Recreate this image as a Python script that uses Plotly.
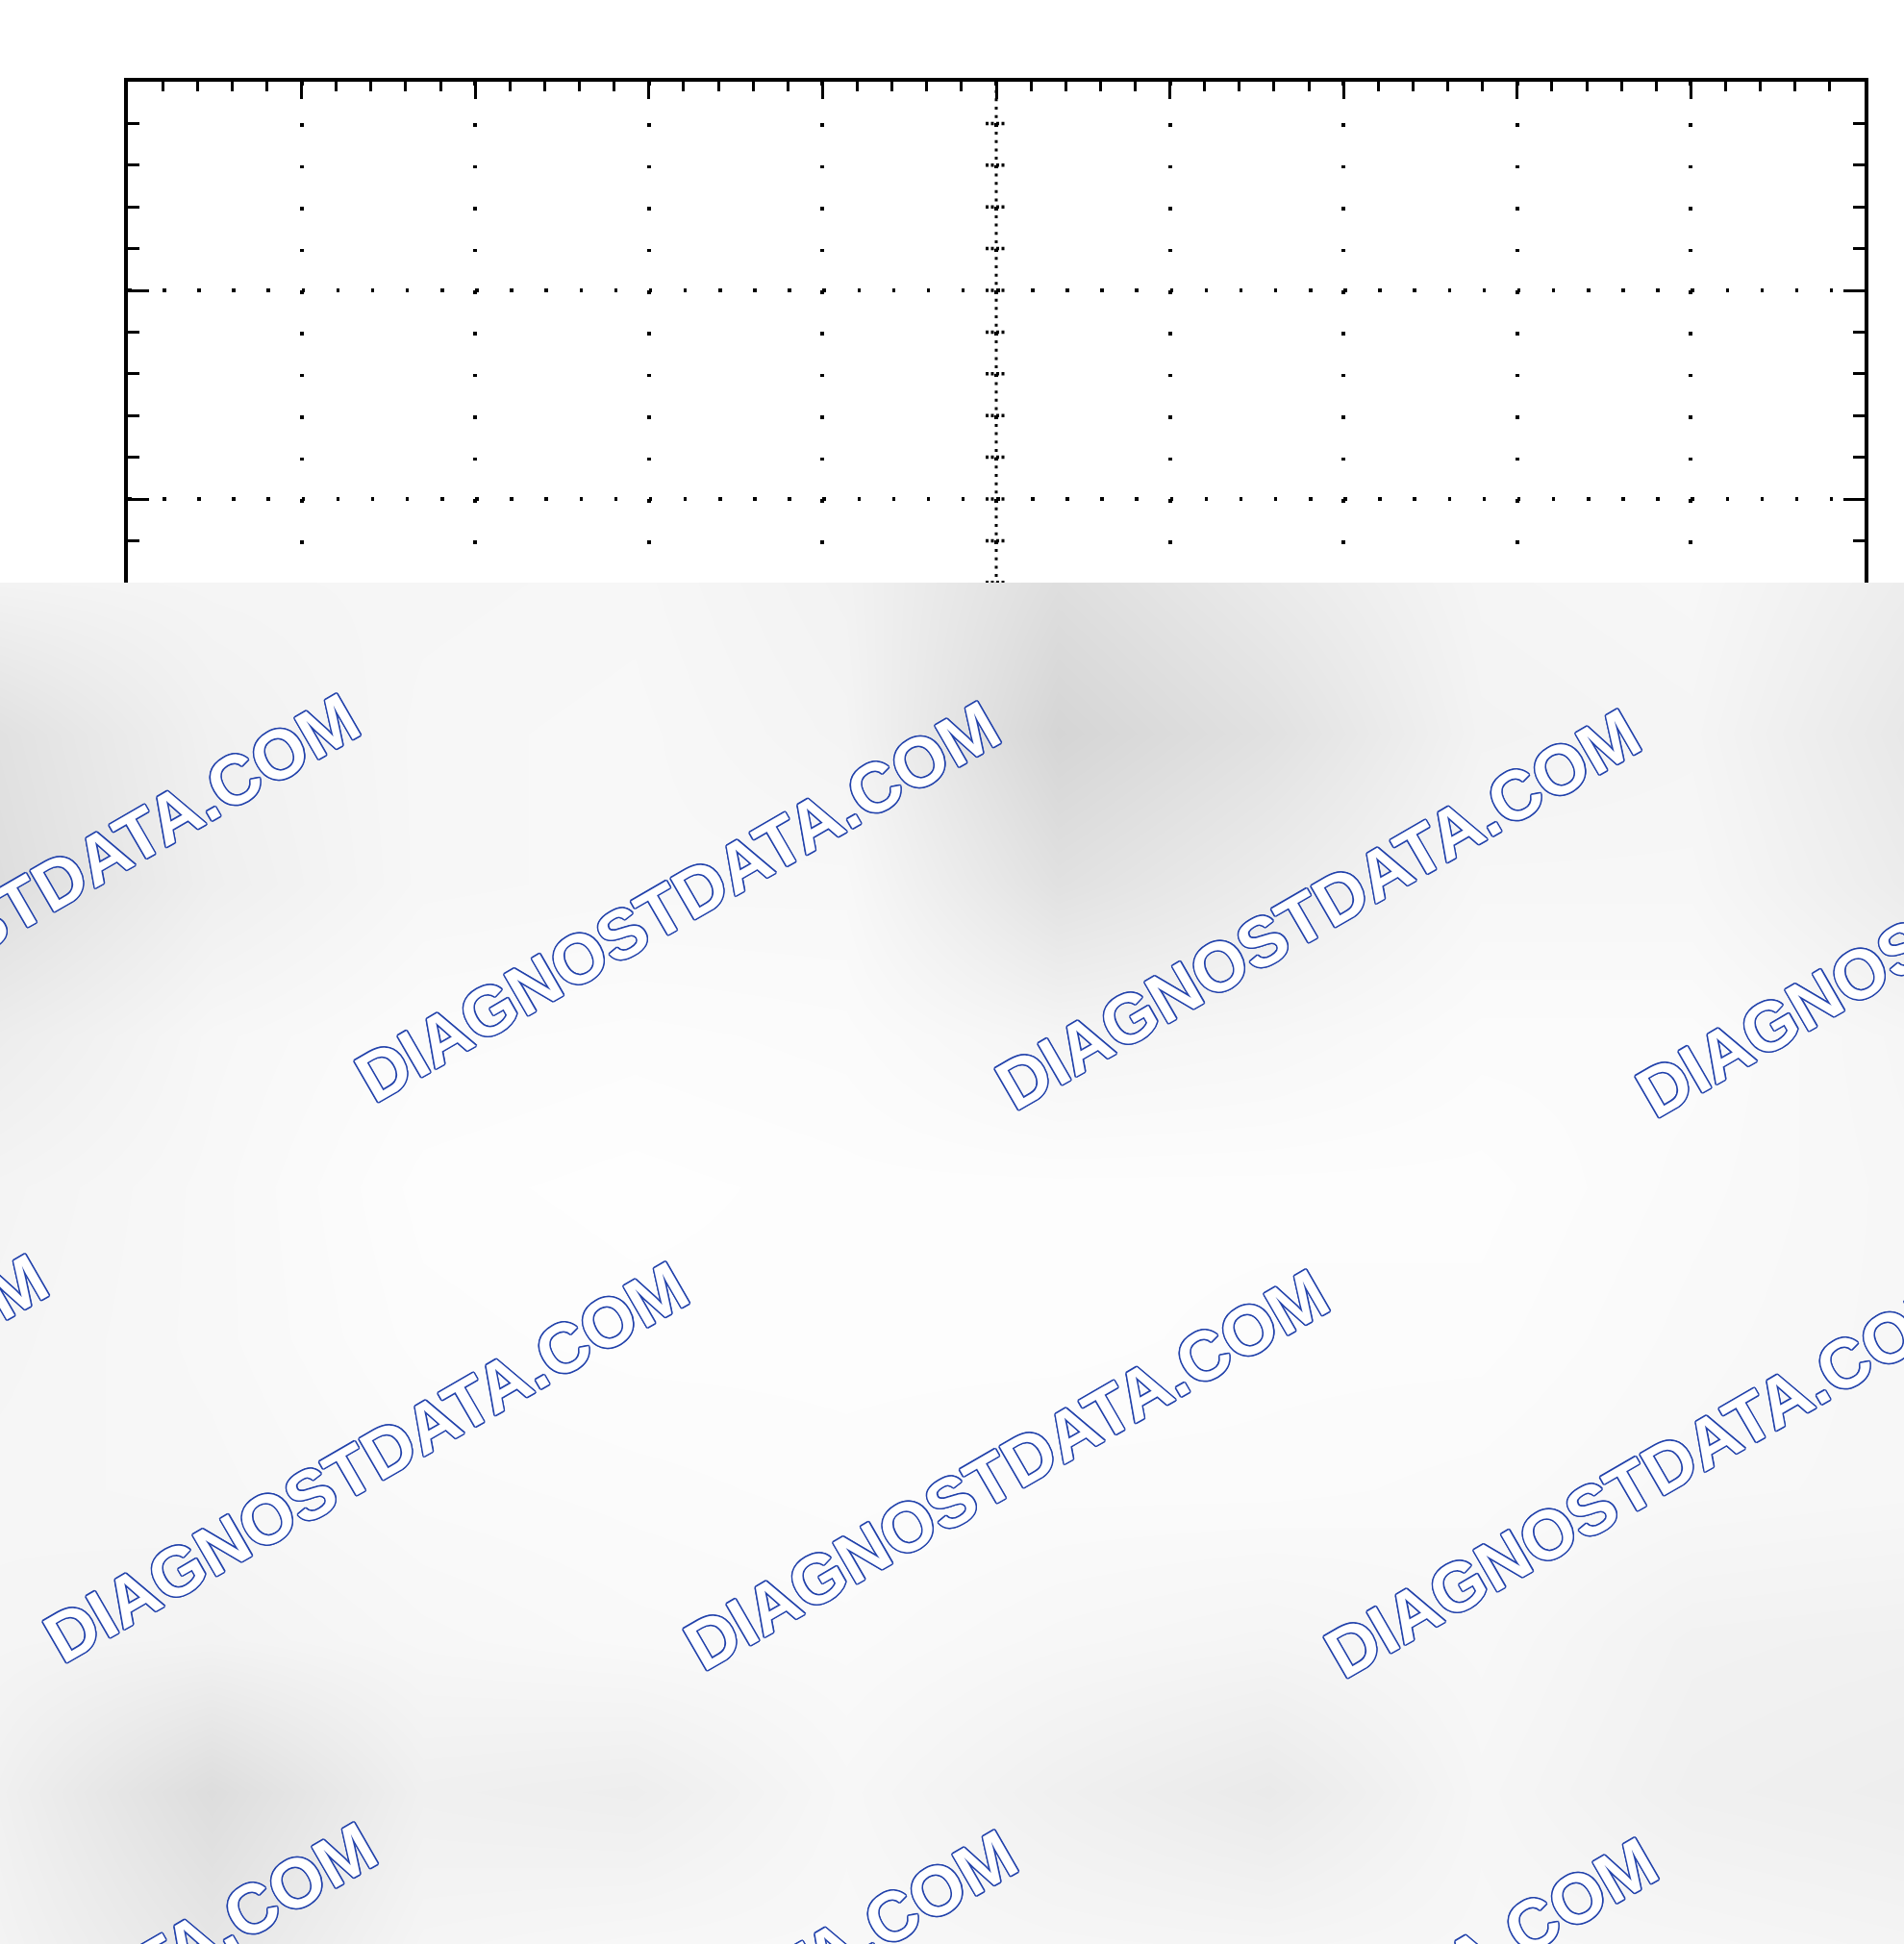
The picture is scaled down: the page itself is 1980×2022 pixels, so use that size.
import plotly.graph_objects as go

W, H = 1980, 2022

# --- scope graticule (units = divisions) ---
scr_left_px, scr_right_px = 133, 1939
scr_top_px, scr_cut_px = 85, 606          # grey sheet starts at scr_cut_px
div_h_px = 217.0                           # one vertical division on screen
div_w_px = (scr_right_px - scr_left_px) / 10.0
y_top = 4.0
y_cut = y_top - (scr_cut_px - scr_top_px) / div_h_px
center_x = 5
center_marks_y = [3.8, 3.6, 3.4, 3.2, 3.0, 2.8, 2.6, 2.4, 2.2, 2.0, 1.8, 1.6]

# --- grey sheet with the blotchy shading (pixel grid, grey level 0-255) ---
bg_x = [0, 220, 440, 660, 880, 1100, 1320, 1540, 1760, 1980]
bg_y = [606, 763, 920, 1078, 1235, 1392, 1549, 1706, 1864, 2022]
bg_grey = [
    [243, 245, 246, 247, 242, 222, 234, 245, 247, 237],
    [225, 241, 247, 248, 244, 213, 225, 243, 245, 232],
    [222, 239, 247, 248, 248, 225, 236, 247, 247, 236],
    [237, 247, 251, 252, 251, 245, 247, 251, 251, 246],
    [244, 248, 253, 254, 253, 253, 253, 253, 250, 247],
    [245, 248, 252, 253, 253, 253, 252, 252, 249, 247],
    [246, 247, 250, 251, 252, 251, 251, 250, 248, 247],
    [245, 243, 247, 249, 250, 247, 245, 248, 242, 241],
    [240, 221, 240, 238, 247, 240, 234, 246, 240, 238],
    [243, 230, 245, 247, 248, 246, 245, 247, 246, 244],
]

# --- watermark stamps (text centres, pixels) ---
wm_text = "DIAGNOSTDATA.COM"
wm_x = [38, 704, 1370, 2036, -286, 380, 1046, 1712, 56, 722, 1388]
wm_y = [930, 938, 946, 954, 1513, 1521, 1529, 1537, 2104, 2112, 2120]
wm_blue = "#2242ab"

fig = go.Figure()

# dense dotted centre line
fig.add_trace(go.Scatter(
    x=[center_x, center_x], y=[y_top, y_cut], mode="lines",
    line=dict(color="black", width=3, dash="3px,%.2fpx" % (div_h_px / 25 - 3)),
    hoverinfo="skip", showlegend=False, xaxis="x", yaxis="y"))

# small cross marks on the centre line
half = 11 / div_w_px
cx, cy = [], []
for yv in center_marks_y:
    cx += [center_x - half, center_x + half, None]
    cy += [yv, yv, None]
fig.add_trace(go.Scatter(
    x=cx, y=cy, mode="lines",
    line=dict(color="black", width=3.5, dash="3px,2.5px"),
    hoverinfo="skip", showlegend=False, xaxis="x", yaxis="y"))

# grey sheet
fig.add_trace(go.Heatmap(
    x=bg_x, y=bg_y, z=bg_grey, zsmooth="best",
    colorscale=[[0, "rgb(210,210,210)"], [1, "rgb(255,255,255)"]],
    zmin=210, zmax=255, showscale=False, hoverinfo="skip",
    xaxis="x2", yaxis="y2"))

# white letters with a thin blue outline (text-shadow ring)
ring = [(-1.6, 0), (1.6, 0), (0, -1.6), (0, 1.6),
        (-1.1, -1.1), (1.1, -1.1), (-1.1, 1.1), (1.1, 1.1)]
outline = ", ".join("%.1fpx %.1fpx 0 %s" % (dx, dy, wm_blue) for dx, dy in ring)
for xp, yp in zip(wm_x, wm_y):
    fig.add_annotation(
        text=wm_text, xref="paper", yref="paper",
        x=xp / W, y=1 - yp / H, xanchor="center", yanchor="middle",
        showarrow=False, textangle=-30,
        font=dict(family="Liberation Sans", size=72, color="white",
                  weight="bold", shadow=outline))

fig.update_layout(
    width=W, height=H, margin=dict(l=0, r=0, t=0, b=0),
    paper_bgcolor="white", plot_bgcolor="white", showlegend=False,
    xaxis=dict(
        domain=[scr_left_px / W, scr_right_px / W], range=[0, 10],
        side="top", showline=True, linecolor="black", linewidth=4, mirror=False,
        tick0=0, dtick=1, ticks="inside", ticklen=18, tickwidth=3, tickcolor="black",
        showticklabels=False, zeroline=False,
        showgrid=True, gridcolor="black", gridwidth=3.5,
        griddash="3.5px,%.2fpx" % (div_h_px / 5 - 3.5),
        minor=dict(dtick=0.2, ticks="inside", ticklen=10, tickwidth=3,
                   tickcolor="black", showgrid=False),
        fixedrange=True),
    yaxis=dict(
        domain=[1 - scr_cut_px / H, 1 - scr_top_px / H], range=[y_cut, y_top],
        showline=True, linecolor="black", linewidth=4, mirror="ticks",
        tick0=0, dtick=1, ticks="inside", ticklen=22, tickwidth=3, tickcolor="black",
        showticklabels=False, zeroline=False,
        showgrid=True, gridcolor="black", gridwidth=3.5,
        griddash="3.5px,%.2fpx" % (div_w_px / 5 - 3.5),
        minor=dict(dtick=0.2, ticks="inside", ticklen=12, tickwidth=3,
                   tickcolor="black", showgrid=False),
        fixedrange=True),
    xaxis2=dict(domain=[0, 1], range=[0, W], visible=False, fixedrange=True),
    yaxis2=dict(domain=[0, 1 - scr_cut_px / H], range=[H, scr_cut_px],
                visible=False, fixedrange=True),
)

# page margin off so the figure fills the window exactly
fig.write_html("out.html", config={"displayModeBar": False},
               post_script="document.body.style.margin='0';"
                           "document.body.style.overflow='hidden';")
